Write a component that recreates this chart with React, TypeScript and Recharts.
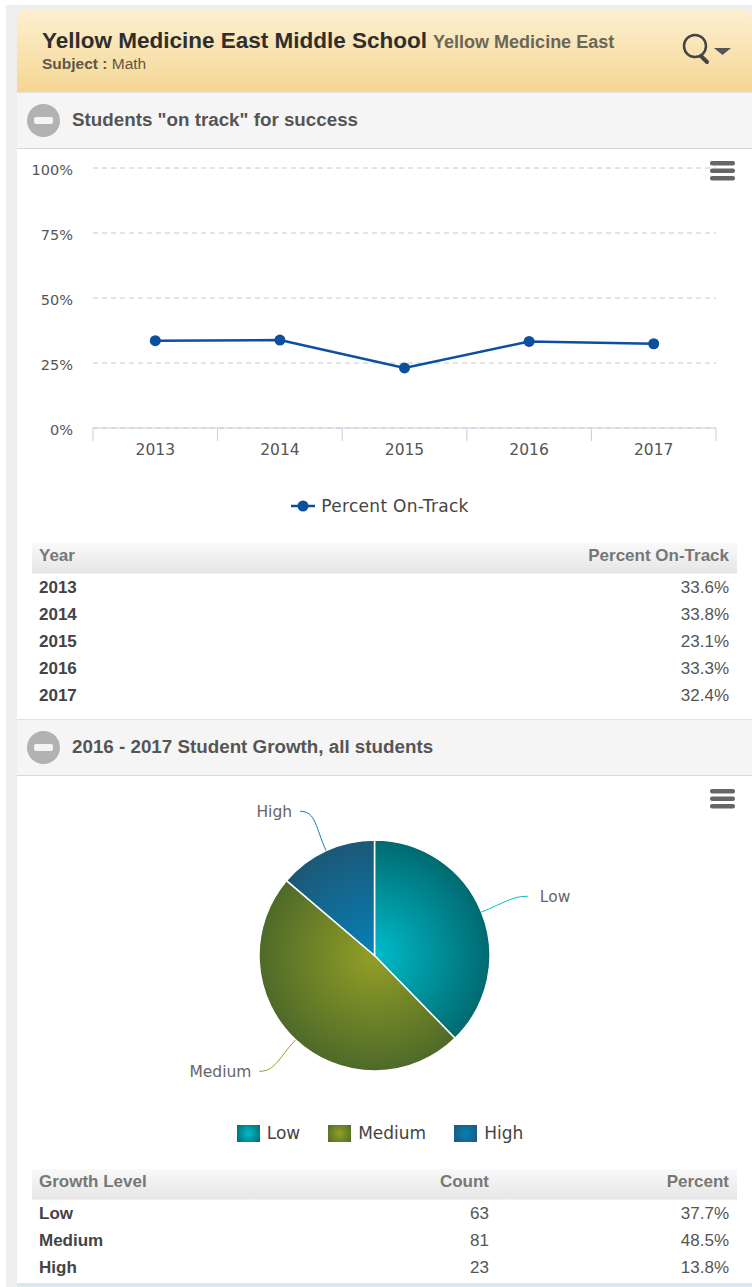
import { CartesianGrid, Cell, Legend, Line, LineChart, Pie, PieChart, XAxis, YAxis } from "recharts"

const years = ["2013", "2014", "2015", "2016", "2017"]
const onTrack = [33.6, 33.8, 23.1, 33.3, 32.4]
const yTicks = [0, 25, 50, 75, 100]

const growthLevels = ["Low", "Medium", "High"]
const growthCounts = [63, 81, 23]
const growthPercents = [37.7, 48.5, 13.8]

const SANS = "'Liberation Sans', Arial, sans-serif"
const CHART_FONT = "'DejaVu Sans', sans-serif"
const TICK_COLOR = "#555"
const LINE_COLOR = "#0b4f9e"

const PLOT_WIDTH = 623
const BAND = PLOT_WIDTH / years.length

const gradients = [
  { id: "sliceLow", inner: "#00bccb", outer: "#006a70" },
  { id: "sliceMedium", inner: "#939f26", outer: "#4e6a29" },
  { id: "sliceHigh", inner: "#0680b8", outer: "#1c5876" },
]

// pie labels get pushed apart a little from the plain radial spot
const labelNudge = [
  [0, 3],
  [-2, -5],
  [-5, 6],
]

const lineData = years.map((year, i) => ({ year, onTrack: onTrack[i] }))
const pieData = growthLevels.map((name, i) => ({ name, count: growthCounts[i] }))

function YearTick({ x, y, payload, index }: any) {
  const left = x - BAND / 2
  return (
    <g>
      <line x1={left} x2={left} y1={y} y2={y + 13} stroke="#c0d0e0" />
      {index === years.length - 1 && <line x1={x + BAND / 2} x2={x + BAND / 2} y1={y} y2={y + 13} stroke="#c0d0e0" />}
      <text x={x} y={y + 27} textAnchor="middle" fill={TICK_COLOR} fontSize={15.5} fontFamily={CHART_FONT}>
        {payload.value}
      </text>
    </g>
  )
}

function LineLegend({ payload }: any) {
  return (
    <div style={{ display: "flex", justifyContent: "center", alignItems: "center", height: 40, fontFamily: CHART_FONT, fontSize: 17, letterSpacing: 0.3, color: "#444" }}>
      {(payload || []).map((item: any) => (
        <span key={item.value} style={{ display: "flex", alignItems: "center" }}>
          <svg width={24} height={12} style={{ marginRight: 6 }}>
            <line x1={0} x2={24} y1={6} y2={6} stroke={LINE_COLOR} strokeWidth={2.5} />
            <circle cx={12} cy={6} r={5.5} fill={LINE_COLOR} />
          </svg>
          {item.value}
        </span>
      ))}
    </div>
  )
}

function PieLegend() {
  return (
    <div style={{ display: "flex", justifyContent: "center", alignItems: "center", height: 30, fontFamily: CHART_FONT, fontSize: 17, color: "#444" }}>
      {growthLevels.map((name, i) => (
        <span key={name} style={{ display: "flex", alignItems: "center", marginRight: i < 2 ? 28 : 0 }}>
          <span
            style={{
              width: 23,
              height: 17,
              marginRight: 7,
              background: `radial-gradient(circle, ${gradients[i].inner}, ${gradients[i].outer})`,
            }}
          />
          {name}
        </span>
      ))}
    </div>
  )
}

// point on a circle around the pie centre, using the pie's own angle convention
function polar(cx: number, cy: number, r: number, angle: number) {
  const rad = (-angle * Math.PI) / 180
  return { x: cx + r * Math.cos(rad), y: cy + r * Math.sin(rad) }
}

function SliceLabel({ cx, cy, midAngle, outerRadius, name, index }: any) {
  const end = polar(cx, cy, outerRadius + 50, midAngle)
  const right = end.x > cx
  return (
    <text
      x={end.x + labelNudge[index][0] + (right ? 12 : -8)}
      y={end.y + labelNudge[index][1] + 6}
      textAnchor={right ? "start" : "end"}
      fill="#666"
      fontSize={15.5}
      fontFamily={CHART_FONT}
    >
      {name}
    </text>
  )
}

function SliceConnector({ cx, cy, midAngle, outerRadius, index }: any) {
  const start = polar(cx, cy, outerRadius, midAngle)
  const bend = polar(cx, cy, outerRadius + 25, midAngle)
  const tip = polar(cx, cy, outerRadius + 50, midAngle)
  const endX = tip.x + labelNudge[index][0]
  const endY = tip.y + labelNudge[index][1]
  const dir = endX > cx ? -1 : 1
  return (
    <path
      d={`M${start.x},${start.y} C${bend.x},${bend.y} ${endX + dir * 16},${endY} ${endX},${endY}`}
      fill="none"
      stroke={gradients[index].inner}
      strokeWidth={1}
    />
  )
}

function Burger({ top }: { top: number }) {
  return (
    <svg width={26} height={22} style={{ position: "absolute", left: 709, top }}>
      <rect x={1} y={1} width={25} height={4.5} rx={2} fill="#666" />
      <rect x={1} y={8.5} width={25} height={4.5} rx={2} fill="#666" />
      <rect x={1} y={16} width={25} height={4.5} rx={2} fill="#666" />
    </svg>
  )
}

function SectionHeader({ top, title }: { top: number; title: string }) {
  return (
    <div style={{ position: "absolute", left: 17, top, width: 735, height: 57, background: "#f5f5f5", borderTop: "1px solid #e2e2e2", borderBottom: "1px solid #d8d8d8", boxSizing: "border-box" }}>
      <div style={{ position: "absolute", left: 10, top: 11, width: 33, height: 33, borderRadius: "50%", background: "#b2b2b2" }}>
        <div style={{ position: "absolute", left: 7, top: 13, width: 19, height: 7, borderRadius: 2, background: "#f4f4f4" }} />
      </div>
      <div style={{ position: "absolute", left: 55, top: 16, fontFamily: SANS, fontWeight: 700, fontSize: 18.8, color: "#555", whiteSpace: "nowrap" }}>{title}</div>
    </div>
  )
}

function DataTable({ top, columns, rows, widths }: { top: number; columns: string[]; rows: string[][]; widths: number[] }) {
  return (
    <table style={{ position: "absolute", left: 32, top, width: 705, borderCollapse: "collapse", tableLayout: "fixed", fontFamily: SANS, fontSize: 17 }}>
      <thead>
        <tr style={{ height: 31, background: "linear-gradient(#f9f9f9, #e6e6e6 97%, #fff)" }}>
          {columns.map((c, i) => (
            <th key={c} style={{ width: widths[i], boxSizing: "border-box", padding: "0 8px 5px 7px", textAlign: i === 0 ? "left" : "right", color: "#777", fontWeight: 700 }}>
              {c}
            </th>
          ))}
        </tr>
      </thead>
      <tbody>
        {rows.map((row) => (
          <tr key={row[0]} style={{ height: 27 }}>
            {row.map((cell, i) => (
              <td key={i} style={{ padding: "0 8px 0 7px", textAlign: i === 0 ? "left" : "right", color: i === 0 ? "#444" : "#555", fontWeight: i === 0 ? 700 : 400 }}>
                {cell}
              </td>
            ))}
          </tr>
        ))}
      </tbody>
    </table>
  )
}

export default function App() {
  return (
    <div style={{ position: "absolute", left: 0, top: 0, width: 752, height: 1287, overflow: "hidden", background: "#fff" }}>
      <style>{"body{margin:0}"}</style>
      <div style={{ position: "absolute", left: 6, top: 5, width: 746, height: 1282, background: "#eeeeee" }} />
      <div style={{ position: "absolute", left: 17, top: 92, width: 735, height: 1195, background: "#fff" }} />

      {/* school header */}
      <div style={{ position: "absolute", left: 17, top: 9, width: 735, height: 84, borderRadius: "10px 10px 0 0", background: "linear-gradient(#fdf0d2, #f5d692)" }}>
        <div style={{ position: "absolute", left: 25, top: 19, whiteSpace: "nowrap", fontFamily: SANS }}>
          <span style={{ fontWeight: 700, fontSize: 22.5, color: "#2e2e2e" }}>Yellow Medicine East Middle School</span>
          <span style={{ fontWeight: 700, fontSize: 18, color: "#6b6657", marginLeft: 6 }}>Yellow Medicine East</span>
        </div>
        <div style={{ position: "absolute", left: 25, top: 46, whiteSpace: "nowrap", fontFamily: SANS, fontSize: 15.5, color: "#5d5848" }}>
          <b>Subject :</b> Math
        </div>
        <svg width={60} height={40} style={{ position: "absolute", left: 662, top: 24 }}>
          <circle cx={16} cy={13} r={11} fill="none" stroke="#444" strokeWidth={2.5} />
          <line x1={22} y1={23} x2={28} y2={29} stroke="#444" strokeWidth={4} strokeLinecap="round" />
          <polygon points="35,15 52,15 43.5,22" fill="#555" />
        </svg>
      </div>

      <SectionHeader top={92} title={'Students "on track" for success'} />

      <div style={{ position: "absolute", left: 17, top: 149 }}>
        <LineChart width={735} height={390} data={lineData} margin={{ top: 19, right: 36, bottom: 13, left: 0 }}>
          <CartesianGrid vertical={false} stroke="#c8c8c8" strokeDasharray="5 4" />
          <XAxis dataKey="year" scale="band" height={58} interval={0} tickLine={false} tickSize={0} tickMargin={0} axisLine={{ stroke: "#c0d0e0" }} tick={<YearTick />} />
          <YAxis
            width={76}
            domain={[0, 100]}
            ticks={yTicks}
            interval={0}
            axisLine={false}
            tickLine={false}
            tickSize={0}
            tickMargin={20}
            tickFormatter={(v: number) => `${v}%`}
            tick={{ fill: TICK_COLOR, fontSize: 14.5, fontFamily: CHART_FONT, dy: 2 }}
          />
          <Legend verticalAlign="bottom" height={40} wrapperStyle={{ paddingLeft: 27, boxSizing: "border-box" }} content={<LineLegend />} />
          <Line
            dataKey="onTrack"
            name="Percent On-Track"
            stroke={LINE_COLOR}
            strokeWidth={2.5}
            dot={{ r: 5.5, fill: LINE_COLOR, stroke: LINE_COLOR, strokeWidth: 0 }}
            isAnimationActive={false}
          />
        </LineChart>
      </div>
      <Burger top={160} />

      <DataTable
        top={543}
        columns={["Year", "Percent On-Track"]}
        widths={[350, 355]}
        rows={years.map((year, i) => [year, `${onTrack[i].toFixed(1)}%`])}
      />

      <SectionHeader top={719} title="2016 - 2017 Student Growth, all students" />

      <div style={{ position: "absolute", left: 17, top: 777 }}>
        <PieChart width={735} height={385} margin={{ top: 0, right: 0, bottom: 14, left: 0 }}>
          <defs>
            {gradients.map((g) => (
              <radialGradient key={g.id} id={g.id} gradientUnits="userSpaceOnUse" cx={357.5} cy={178.5} r={115.5}>
                <stop offset="0%" stopColor={g.inner} />
                <stop offset="100%" stopColor={g.outer} />
              </radialGradient>
            ))}
          </defs>
          <Pie
            data={pieData}
            dataKey="count"
            nameKey="name"
            cx={357.5}
            cy={178.5}
            outerRadius={115.5}
            startAngle={90}
            endAngle={-270}
            stroke="#fff"
            strokeWidth={1.5}
            label={SliceLabel}
            labelLine={SliceConnector}
            isAnimationActive={false}
          >
            {pieData.map((entry, i) => (
              <Cell key={entry.name} fill={`url(#${gradients[i].id})`} />
            ))}
          </Pie>
          <Legend verticalAlign="bottom" height={30} wrapperStyle={{ paddingRight: 9, boxSizing: "border-box" }} content={<PieLegend />} />
        </PieChart>
      </div>
      <Burger top={788} />

      <DataTable
        top={1169}
        columns={["Growth Level", "Count", "Percent"]}
        widths={[350, 115, 240]}
        rows={growthLevels.map((name, i) => [name, String(growthCounts[i]), `${growthPercents[i].toFixed(1)}%`])}
      />

      <div style={{ position: "absolute", left: 17, top: 1283, width: 735, height: 4, background: "#dce8f0" }} />
    </div>
  )
}
